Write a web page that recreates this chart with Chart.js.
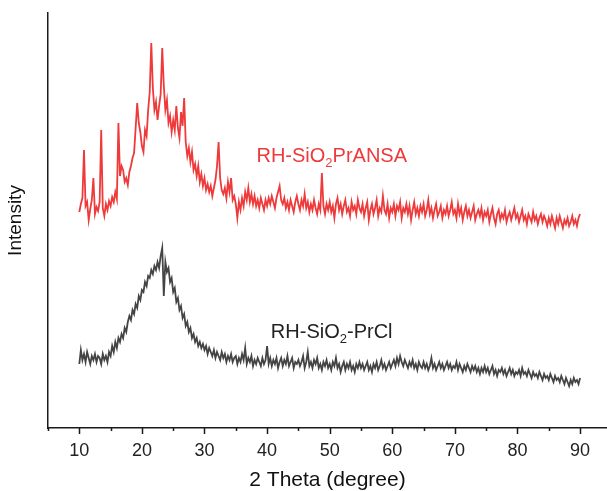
<!DOCTYPE html>
<html>
<head>
<meta charset="utf-8">
<script src="https://cdn.jsdelivr.net/npm/chart.js@4"></script>
<style>
  html, body { margin: 0; padding: 0; background: #fff; }
  #wrap { width: 607px; height: 491px; position: relative; }
</style>
</head>
<body>
<div id="wrap"><canvas id="xrd"></canvas></div>
<script>
// scan: 10 - 90 deg, 0.25 deg step
const twoTheta = Array.from({ length: 321 }, (_, i) => 10 + i * 0.25);

// RH-SiO2PrANSA (offset trace, a.u.)
const pransa = [
  216, 224, 230, 278, 222, 226, 208, 219, 228, 250, 214, 221, 217, 226, 298, 220, 212, 224, 218, 227,
  222, 231, 226, 236, 229, 305, 252, 262, 258, 246, 250, 243, 256, 262, 270, 275, 300, 325, 305, 296,
  282, 276, 298, 292, 318, 336, 385, 340, 318, 326, 308, 322, 334, 380, 342, 318, 328, 305, 312, 296,
  308, 298, 322, 300, 290, 316, 302, 330, 286, 272, 280, 266, 276, 258, 264, 252, 262, 246, 254, 242,
  250, 238, 244, 236, 242, 232, 240, 248, 262, 286, 250, 238, 234, 240, 230, 246, 236, 250, 228, 232,
  224, 210, 226, 218, 230, 222, 236, 228, 240, 226, 234, 224, 232, 222, 228, 220, 230, 224, 218, 228,
  222, 230, 224, 232, 226, 220, 230, 236, 242, 228, 224, 230, 220, 226, 218, 228, 222, 216, 226, 232,
  224, 218, 228, 222, 234, 220, 226, 216, 224, 218, 228, 220, 214, 224, 218, 255, 222, 214, 224, 218,
  226, 216, 222, 210, 224, 230, 218, 224, 214, 222, 228, 216, 220, 212, 226, 218, 222, 214, 228, 220,
  216, 224, 212, 220, 226, 208, 218, 224, 214, 220, 228, 212, 220, 216, 232, 218, 214, 224, 210, 220,
  216, 224, 212, 222, 218, 226, 210, 220, 216, 224, 214, 222, 208, 218, 226, 214, 220, 212, 222, 216,
  224, 212, 218, 228, 214, 220, 210, 218, 224, 212, 216, 222, 210, 218, 214, 222, 212, 218, 226, 214,
  218, 210, 224, 214, 220, 208, 216, 222, 212, 218, 210, 216, 222, 208, 214, 218, 212, 220, 208, 216,
  212, 218, 206, 214, 220, 210, 204, 214, 218, 208, 214, 210, 218, 206, 212, 216, 208, 214, 220, 210,
  214, 206, 212, 218, 208, 212, 204, 214, 210, 206, 216, 208, 212, 204, 210, 214, 206, 212, 208, 202,
  210, 204, 212, 206, 200, 210, 204, 212, 206, 200, 208, 204, 210, 202, 206, 212, 204, 208, 202, 210,
  214
];

// RH-SiO2-PrCl (a.u.)
const prcl = [
  64, 78, 68, 74, 66, 76, 70, 64, 72, 68, 74, 66, 72, 70, 64, 74, 68, 72, 66, 76,
  72, 82, 76, 86, 80, 90, 86, 94, 90, 100, 96, 106, 112, 108, 118, 114, 124, 120, 132, 128,
  138, 136, 146, 142, 152, 150, 158, 154, 162, 158, 166, 160, 172, 180, 132, 166, 156, 160, 146, 150,
  136, 140, 126, 130, 118, 122, 110, 114, 102, 106, 96, 100, 90, 94, 86, 90, 82, 86, 80, 84,
  78, 82, 74, 80, 76, 72, 78, 70, 76, 72, 68, 76, 70, 74, 66, 72, 68, 74, 66, 70,
  72, 64, 70, 66, 74, 68, 80, 64, 70, 66, 72, 62, 68, 64, 70, 66, 62, 70, 64, 68,
  82, 64, 70, 62, 68, 64, 70, 60, 66, 70, 62, 68, 64, 72, 62, 66, 70, 60, 66, 64,
  68, 62, 66, 72, 60, 66, 76, 62, 66, 60, 68, 64, 70, 60, 64, 58, 66, 62, 68, 60,
  64, 58, 66, 62, 70, 60, 64, 56, 62, 66, 58, 64, 60, 66, 58, 62, 56, 64, 60, 66,
  60, 64, 58, 62, 66, 58, 62, 56, 64, 60, 66, 58, 62, 68, 60, 64, 58, 62, 66, 60,
  64, 68, 62, 70, 64, 72, 66, 62, 68, 64, 60, 66, 62, 68, 60, 64, 58, 66, 62, 60,
  66, 60, 64, 58, 62, 70, 60, 64, 58, 62, 66, 60, 64, 58, 62, 66, 60, 64, 58, 62,
  60, 66, 58, 64, 60, 56, 62, 58, 64, 60, 56, 62, 58, 62, 56, 60, 54, 60, 56, 62,
  56, 60, 54, 58, 62, 54, 58, 52, 58, 56, 60, 54, 58, 52, 56, 60, 54, 58, 52, 56,
  54, 58, 52, 60, 54, 56, 52, 58, 54, 50, 56, 52, 54, 50, 56, 52, 48, 54, 50, 52,
  48, 54, 50, 46, 52, 48, 50, 46, 52, 48, 44, 50, 46, 42, 48, 44, 50, 46, 48, 44,
  50
];

const xTicksMajor = 10;   // labelled every 10 deg, minor marks every 5
const redLabel = { x: 38.3, y: 266, main: 'RH-SiO', sub: '2', rest: 'PrANSA', color: '#ee3a3a' };
const blackLabel = { x: 40.6, y: 90, main: 'RH-SiO', sub: '2', rest: '-PrCl', color: '#222' };

const FONT = "'Liberation Sans', Arial, sans-serif";

// tick marks: long for labelled ticks, short for the in-between ones
const tickMarks = {
  id: 'tickMarks',
  afterDraw(chart) {
    const sx = chart.scales.x;
    const ctx = chart.ctx;
    ctx.save();
    ctx.strokeStyle = '#1a1a1a';
    ctx.lineWidth = 1.5;
    sx.ticks.forEach(t => {
      const px = Math.round(sx.getPixelForValue(t.value)) + 0.5;
      const len = t.value % xTicksMajor === 0 ? 6 : 3;
      ctx.beginPath();
      ctx.moveTo(px, sx.top);
      ctx.lineTo(px, sx.top + len);
      ctx.stroke();
    });
    ctx.restore();
  }
};

// sample names with subscript 2
const traceLabels = {
  id: 'traceLabels',
  afterDatasetsDraw(chart) {
    const { ctx, scales: { x, y } } = chart;
    [redLabel, blackLabel].forEach(l => {
      let px = x.getPixelForValue(l.x);
      const py = y.getPixelForValue(l.y);
      ctx.save();
      ctx.fillStyle = l.color;
      ctx.textBaseline = 'alphabetic';
      ctx.textAlign = 'left';
      ctx.font = '20px ' + FONT;
      ctx.fillText(l.main, px, py);
      px += ctx.measureText(l.main).width;
      ctx.font = '13px ' + FONT;
      ctx.fillText(l.sub, px, py + 5);
      px += ctx.measureText(l.sub).width;
      ctx.font = '20px ' + FONT;
      ctx.fillText(l.rest, px, py);
      ctx.restore();
    });
  }
};

const ctx = document.getElementById('xrd').getContext('2d');

new Chart(ctx, {
  type: 'line',
  data: {
    labels: twoTheta,
    datasets: [
      {
        label: 'RH-SiO2PrANSA',
        data: twoTheta.map((t, i) => ({ x: t, y: pransa[i] })),
        borderColor: '#ee3a3a',
        borderWidth: 1.8,
        pointRadius: 0,
        tension: 0
      },
      {
        label: 'RH-SiO2-PrCl',
        data: twoTheta.map((t, i) => ({ x: t, y: prcl[i] })),
        borderColor: '#444444',
        borderWidth: 1.8,
        pointRadius: 0,
        tension: 0
      }
    ]
  },
  options: {
    responsive: true,
    maintainAspectRatio: false,
    animation: false,
    layout: { padding: { top: 13, right: 0, left: 0, bottom: 0 } },
    plugins: {
      legend: { display: false },
      tooltip: { enabled: false }
    },
    scales: {
      x: {
        type: 'linear',
        min: 5,
        max: 94.3,
        afterFit: s => { s.height = 63; },
        grid: { display: false, drawTicks: false },
        border: { display: true, color: '#1a1a1a', width: 1.5 },
        ticks: {
          stepSize: 5,
          includeBounds: false,
          autoSkip: false,
          maxRotation: 0,
          padding: 12,
          color: '#222',
          font: { family: FONT, size: 18 },
          callback: v => (v % xTicksMajor === 0 ? v : '')
        },
        title: {
          display: true,
          text: '2 Theta (degree)',
          color: '#111',
          font: { family: FONT, size: 21, lineHeight: 1 },
          padding: { top: 0, bottom: 0 }
        }
      },
      y: {
        min: 0,
        max: 415,
        afterFit: s => { s.width = 48; },
        grid: { display: false, drawTicks: false },
        border: { display: true, color: '#1a1a1a', width: 1.5 },
        ticks: { display: false },
        title: {
          display: true,
          text: 'Intensity',
          color: '#111',
          font: { family: FONT, size: 19, lineHeight: 1 },
          padding: { top: 6, bottom: 0 }
        }
      }
    }
  },
  plugins: [tickMarks, traceLabels]
});
</script>
</body>
</html>
